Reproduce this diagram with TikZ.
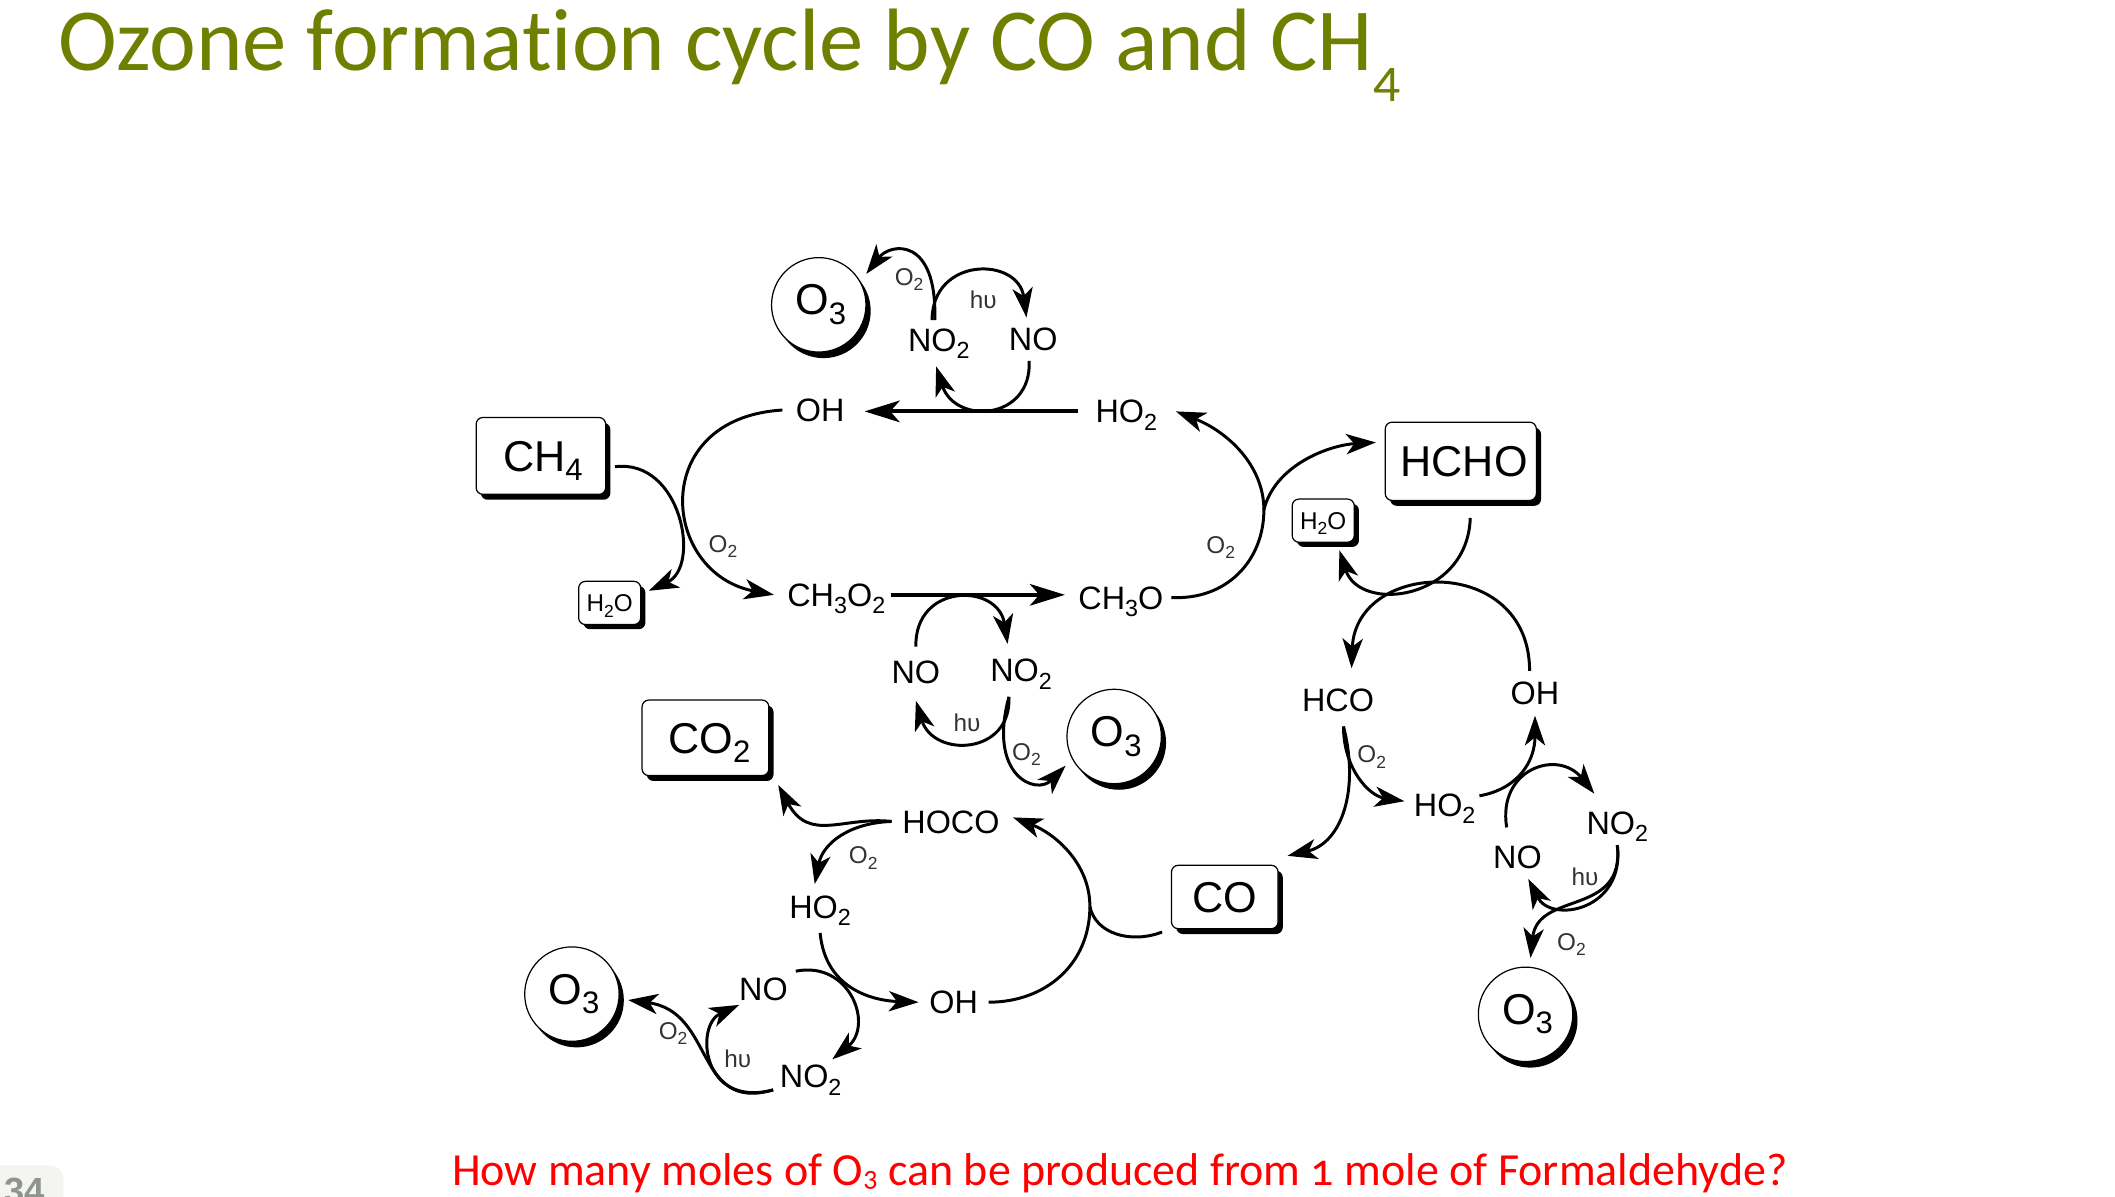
\documentclass[tikz,border=0pt]{standalone}
\usepackage{graphicx}
\usepackage{fontspec}
\setmainfont{Liberation Sans}
\newfontfamily\slidefont[Numbers=OldStyle,Ligatures=NoCommon]{Carlito}
\usetikzlibrary{arrows.meta,shadows}
\definecolor{titleolive}{HTML}{6F8000}
\definecolor{tabgray}{HTML}{F4F5F3}
\definecolor{numgray}{HTML}{8E9490}
\newcommand{\chemsub}[1]{\raisebox{-0.22em}{\scalebox{0.72}{#1}}}
\newcommand{\titlesub}[1]{\raisebox{-0.3em}{\scalebox{0.6}{#1}}}
\newcommand{\asksub}[1]{\raisebox{-0.02em}{\scalebox{0.62}{#1}}}
\begin{document}
\begin{tikzpicture}[
    x=1pt, y=-1pt,
    chem/.style={inner sep=0pt, outer xsep=10pt, outer ysep=8pt, text height=17.2pt, text depth=0pt, font=\fontsize{24}{28}\selectfont},
    note/.style={inner sep=0pt, text height=12.9pt, text depth=0pt, text=black!80, font=\fontsize{18}{20}\selectfont},
    bigbox/.style={draw, fill=white, line width=0.9pt, rounded corners=5pt, inner sep=0pt, outer sep=7pt, text height=22.9pt, text depth=0pt, align=center, font=\fontsize{32}{36}\selectfont, drop shadow={shadow xshift=3.5pt, shadow yshift=-4pt, fill=black, opacity=1}},
    smallbox/.style={draw, fill=white, line width=0.9pt, rounded corners=5pt, inner sep=0pt, outer sep=6pt, minimum width=46pt, minimum height=32pt, text height=13pt, text depth=0pt, font=\fontsize{18}{20}\selectfont, drop shadow={shadow xshift=3.5pt, shadow yshift=-3.5pt, fill=black, opacity=1}},
    sphere/.style={circle, draw, fill=white, line width=0.9pt, inner sep=0pt, outer sep=7pt, minimum size=70pt, text height=22.9pt, text depth=8pt, font=\fontsize{32}{36}\selectfont, drop shadow={shadow xshift=3.5pt, shadow yshift=-4.5pt, fill=black, opacity=1}},
    rxn/.style={line width=2.2pt, -{Stealth[length=22pt, width=15pt, inset=6pt]}},
    rxnplain/.style={line width=2.2pt},
    rxnthick/.style={line width=2.9pt, -{Stealth[length=26pt, width=16pt, inset=7pt]}}
]
  \useasboundingbox (0,0) rectangle (1568,887.4);

  % Slide title, question and page tab
  \node[anchor=base west, inner sep=0pt, text=titleolive, font=\slidefont\fontsize{65.7}{70}\selectfont] (title) at (43,52) {Ozone formation cycle by CO and CH\titlesub{4}};
  \node[anchor=base west, inner sep=0pt, text=red, font=\slidefont\fontsize{34.1}{38}\selectfont] (question) at (335,879) {How many moles of O\asksub{3} can be produced from 1 mole of Formaldehyde?};
  \node[fill=tabgray, rounded corners=10pt, minimum width=70pt, minimum height=50pt] (tab) at (12,889) {};
  \node[anchor=base west, inner sep=0pt, text=numgray, font=\bfseries\fontsize{27}{30}\selectfont] (page) at (3,892) {34};

  % Boxed species
  \node[bigbox, minimum width=96pt, minimum height=57pt] (ch4B) at (401,338) {\kern3pt CH\chemsub{4}};
  \node[bigbox, minimum width=112pt, minimum height=58pt] (hchoB) at (1083,342) {\kern5pt HCHO};
  \node[bigbox, minimum width=94pt, minimum height=56pt] (co2B) at (523,547) {\kern6pt CO\chemsub{2}};
  \node[bigbox, minimum width=79pt, minimum height=47pt] (coB) at (908,665) {CO};
  \node[smallbox] (h2oL) at (452,447) {H\chemsub{2}O};
  \node[smallbox] (h2oR) at (981,386) {H\chemsub{2}O};

  % Ozone spheres
  \node[sphere] (o3T) at (607,226) {\kern3pt O\chemsub{3}};
  \node[sphere] (o3M) at (826,546) {\kern3pt O\chemsub{3}};
  \node[sphere] (o3L) at (424,737) {\kern3pt O\chemsub{3}};
  \node[sphere] (o3R) at (1131,752) {\kern3pt O\chemsub{3}};

  % Upper cycle species
  \node[chem] (ohA) at (608,304) {OH};
  \node[chem] (ho2A) at (835,305) {HO\chemsub{2}};
  \node[chem] (ch3o2A) at (620,441) {CH\chemsub{3}O\chemsub{2}};
  \node[chem] (ch3oA) at (831,443) {CH\chemsub{3}O};
  \node[chem] (no2A) at (696,252) {NO\chemsub{2}};
  \node[chem] (noA) at (766,251) {NO};
  \node[chem] (noB) at (679,498) {NO};
  \node[chem] (no2B) at (757,497) {NO\chemsub{2}};
  \coordinate (joinA) at (937,378);

  % Right cycle species
  \node[chem] (hcoC) at (992,519) {HCO};
  \node[chem] (ohC) at (1138,514) {OH};
  \node[chem] (ho2C) at (1071,597) {HO\chemsub{2}};
  \node[chem] (no2C) at (1199,610) {NO\chemsub{2}};
  \node[chem] (noC) at (1125,635) {NO};

  % Lower cycle species
  \node[chem] (hocoD) at (705,609) {HOCO};
  \node[chem] (ho2D) at (608,672) {HO\chemsub{2}};
  \node[chem] (ohD) at (707,743) {OH};
  \node[chem] (noD) at (566,733) {NO};
  \node[chem] (no2D) at (601,798) {NO\chemsub{2}};
  \coordinate (joinD) at (808,672);

  % O2 and light labels
  \node[note] (o2a) at (674,205) {O\chemsub{2}};
  \node[note] (o2b) at (536,403) {O\chemsub{2}};
  \node[note] (o2c) at (905,404) {O\chemsub{2}};
  \node[note] (o2d) at (761,557) {O\chemsub{2}};
  \node[note] (o2e) at (1017,559) {O\chemsub{2}};
  \node[note] (o2f) at (1165,698) {O\chemsub{2}};
  \node[note] (o2g) at (640,634) {O\chemsub{2}};
  \node[note] (o2h) at (499,764) {O\chemsub{2}};
  \node[note] (hva) at (729,222) {hυ};
  \node[note] (hvb) at (717,536) {hυ};
  \node[note] (hvc) at (1175,650) {hυ};
  \node[note] (hvd) at (547,785) {hυ};

  % Upper cycle
  \draw[rxn] (ohA.west) .. controls (480,310) and (490,425) .. (ch3o2A.west);
  \draw[rxn] ([yshift=-8pt]ch4B.east) .. controls (505,340) and (520,420) .. ([yshift=9pt]h2oL.east);
  \draw[rxnthick] ([xshift=-3pt]ho2A.west) -- ([xshift=5pt,yshift=-1pt]ohA.east);
  \draw[rxnthick] ([xshift=-6pt]ch3o2A.east) -- ([yshift=2pt]ch3oA.west);
  \draw[rxnplain] ([xshift=-4pt]ch3oA.east) .. controls (910,445) and (937,415) .. (joinA);
  \draw[rxn] (joinA) .. controls (937,345) and (910,320) .. ([xshift=4pt]ho2A.east);
  \draw[rxn] (joinA) .. controls (945,345) and (985,330) .. ([yshift=14pt]hchoB.west);

  % NO and NO2 loop above
  \draw[rxn] ([xshift=-5pt,yshift=-2pt]no2A.north) .. controls (691,190) and (755,190) .. ([xshift=-5pt,yshift=-1pt]noA.north);
  \draw[rxn] ([xshift=-3pt,yshift=-2pt]no2A.north) .. controls (695,175) and (660,180) .. (o3T.33);
  \draw[rxn] ([xshift=-3pt]noA.south) .. controls (765,312) and (708,315) .. ([xshift=-2pt,yshift=-3pt]no2A.south);

  % NO and NO2 loop below
  \draw[rxn] ([yshift=2pt]noB.north) .. controls (678,432) and (740,432) .. ([xshift=-10pt,yshift=3pt]no2B.north);
  \draw[rxn] ([xshift=-9pt,yshift=-3pt]no2B.south) .. controls (750,560) and (692,562) .. ([yshift=-5pt]noB.south);
  \draw[rxn] ([xshift=-9pt,yshift=-3pt]no2B.south) .. controls (732,575) and (768,590) .. (o3M.211);

  % Right cycle
  \draw[rxn] ([xshift=-4pt]ohC.north) .. controls (1134,410) and (1005,415) .. ([xshift=10pt,yshift=7pt]hcoC.north);
  \draw[rxn] ([xshift=7pt,yshift=-6pt]hchoB.south) .. controls (1088,445) and (1008,455) .. ([xshift=12pt]h2oR.south);
  \draw[rxn] ([xshift=4pt,yshift=-3pt]hcoC.south) .. controls (996,570) and (1015,590) .. ([xshift=3pt,yshift=3pt]ho2C.west);
  \draw[rxn] ([xshift=4pt,yshift=-3pt]hcoC.south) .. controls (1008,585) and (995,625) .. (coB.north east);
  \draw[rxn] ([xshift=-7pt,yshift=7pt]ho2C.east) .. controls (1125,585) and (1138,565) .. (ohC.south);

  % NO and NO2 loop on the right
  \draw[rxn] ([xshift=-8pt,yshift=5pt]noC.north) .. controls (1110,570) and (1155,555) .. ([xshift=-17pt,yshift=5pt]no2C.north);
  \draw[rxn] (no2C.south) .. controls (1205,675) and (1150,685) .. ([xshift=8pt]noC.south);
  \draw[rxn] (no2C.south) .. controls (1205,680) and (1140,660) .. (o3R.85);

  % Lower cycle
  \draw[rxnplain] ([xshift=-2pt]ohD.east) .. controls (775,743) and (808,715) .. (joinD);
  \draw[rxnplain] ([yshift=-26pt]coB.west) .. controls (838,700) and (812,692) .. (joinD);
  \draw[rxn] (joinD) .. controls (808,640) and (782,618) .. ([yshift=3pt]hocoD.east);
  \draw[rxn] ([xshift=2pt]hocoD.west) .. controls (625,605) and (600,625) .. (co2B.south east);
  \draw[rxn] ([xshift=2pt]hocoD.west) .. controls (630,610) and (610,625) .. ([xshift=-4pt]ho2D.north);
  \draw[rxn] ([yshift=-3pt]ho2D.south) .. controls (612,735) and (650,742) .. ([xshift=2pt]ohD.west);

  % NO and NO2 loop on the left
  \draw[rxn] ([xshift=-4pt,yshift=13pt]noD.east) .. controls (630,712) and (648,760) .. ([xshift=16pt,yshift=-4pt]no2D.north);
  \draw[rxn] ([xshift=5pt,yshift=-10pt]no2D.west) .. controls (520,822) and (515,760) .. ([xshift=10pt,yshift=-12pt]noD.west);
  \draw[rxn] ([xshift=5pt,yshift=-10pt]no2D.west) .. controls (515,825) and (530,750) .. (o3L.-6);
\end{tikzpicture}
\end{document}
